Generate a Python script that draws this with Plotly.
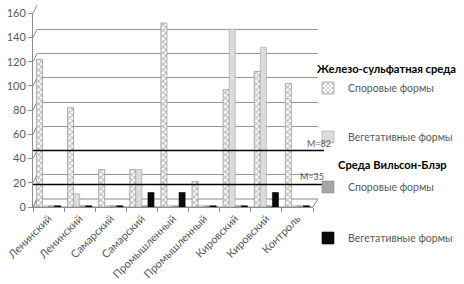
import plotly.graph_objects as go

categories = ["Ленинский", "Ленинский", "Самарский", "Самарский", "Промышленный",
              "Промышленный", "Кировский", "Кировский", "Контроль"]
fe_spore = [122, 82, 31, 31, 152, 21, 97, 112, 102]
fe_veg = [1, 11, 1, 31, 1, 1, 147, 132, 1]
wb_spore = [1, 1, 1, 1, 1, 1, 1, 1, 1]
wb_veg = [1, 1, 1, 12, 12, 1, 1, 12, 1]
y_ticks = [0, 20, 40, 60, 80, 100, 120, 140, 160]
mean_levels = [40, 12]
mean_labels = ["M=82", "M=35"]
group_titles = ["Железо-сульфатная среда", "Среда Вильсон-Блэр"]
series_names = ["Споровые формы", "Вегетативные формы", "Споровые формы", "Вегетативные формы"]

W, H = 464, 284
PL, PR, PT, PB = 33, 318, 5, 207
pw, ph = PR - PL, PB - PT
front_x1 = (313 - PL) / pw
back_x0 = (37 - PL) / pw
back_y0 = 8 / ph
front_y1 = (PB - 13.3) / ph

FONT = "Lato, 'Open Sans', sans-serif"
TXT = "#595959"
xs = list(range(len(categories)))

fig = go.Figure()
styles = [
    dict(color="white", line=dict(color="#7f7f7f", width=0.6),
         pattern=dict(shape="x", fgcolor="#6a6a6a", bgcolor="white", size=4, solidity=0.45)),
    dict(color="#dcdcdc", line=dict(color="#a0a0a0", width=0.6)),
    dict(color="#a6a6a6", line=dict(color="#8a8a8a", width=0.6)),
    dict(color="#0a0a0a", line=dict(color="#000000", width=0.6)),
]
data = [fe_spore, fe_veg, wb_spore, wb_veg]
legends = ["legend", "legend2", "legend3", "legend4"]
for vals, st, nm, lg in zip(data, styles, series_names, legends):
    fig.add_trace(go.Bar(x=xs, y=vals, name=nm, marker=st, xaxis="x2", yaxis="y2",
                         legend=lg, showlegend=True))

# legends
leg_y = [88, 137, 187, 238]
for lg, yy in zip(legends, leg_y):
    fig.update_layout(**{lg: dict(x=308 / W, y=1 - yy / H, xref="container", yref="container",
                                  xanchor="left", yanchor="middle", bgcolor="rgba(0,0,0,0)",
                                  font=dict(family=FONT, size=10.5, color=TXT),
                                  itemclick=False)})

shapes = []
# floor
shapes.append(dict(type="path", xref="paper", yref="paper", layer="below",
                   path=f"M0,0 L{front_x1},0 L1,{back_y0} L{back_x0},{back_y0} Z",
                   line=dict(color="#8c8c8c", width=1), fillcolor="white"))
# left wall diagonals
for v in y_ticks:
    yf = front_y1 * v / 160
    yb = back_y0 + (1 - back_y0) * v / 160
    shapes.append(dict(type="line", xref="paper", yref="paper", layer="below",
                       x0=0, y0=yf, x1=back_x0, y1=yb,
                       line=dict(color="#8c8c8c", width=1)))
# mean lines
for lv in mean_levels:
    shapes.append(dict(type="line", xref="paper", yref="y", x0=0, x1=(324 - PL) / pw,
                       y0=lv, y1=lv, line=dict(color="black", width=1.5)))

annotations = []
ann_x = [333, 326]
for lv, lb, ax in zip(mean_levels, mean_labels, ann_x):
    annotations.append(dict(text=lb, xref="paper", yref="y", x=(ax - PL) / pw, y=lv,
                            xanchor="right", yanchor="bottom", showarrow=False,
                            font=dict(family=FONT, size=9, color=TXT), yshift=0))
title_pos = [(315, 68), (336, 164)]
for t, (tx, ty) in zip(group_titles, title_pos):
    annotations.append(dict(text=f"<b>{t}</b>", xref="paper", yref="paper",
                            x=(tx - PL) / pw, y=(PB - ty) / ph, xanchor="left",
                            yanchor="middle", showarrow=False,
                            font=dict(family=FONT, size=11.2, color="black")))

fig.update_layout(
    width=W, height=H,
    margin=dict(l=PL, r=W - PR, t=PT, b=H - PB, autoexpand=False),
    paper_bgcolor="white", plot_bgcolor="rgba(0,0,0,0)",
    barmode="group", bargap=0.22, bargroupgap=0,
    font=dict(family=FONT, size=11, color=TXT),
    xaxis=dict(domain=[back_x0, 1], range=[0, 1], showgrid=False, showticklabels=False,
               zeroline=False, showline=False, anchor="y"),
    yaxis=dict(domain=[back_y0, 1], range=[0, 160], tickvals=y_ticks, showgrid=True,
               gridcolor="#969696", gridwidth=1, showticklabels=False, zeroline=False,
               showline=False, anchor="x"),
    xaxis2=dict(domain=[0, front_x1], range=[-0.5, len(categories) - 0.5], anchor="y2",
                tickvals=xs, ticktext=categories, tickangle=-45, ticks="",
                showline=True, linecolor="#8c8c8c", showgrid=False, zeroline=False,
                tickfont=dict(family=FONT, size=11, color=TXT),
                minor=dict(ticks="outside", tick0=0.5, dtick=1, ticklen=4,
                           tickcolor="#8c8c8c", showgrid=False)),
    yaxis2=dict(domain=[0, front_y1], range=[0, 160], anchor="x2", tickvals=y_ticks,
                ticks="outside", ticklen=4, tickcolor="#8c8c8c", showline=True,
                linecolor="#8c8c8c", showgrid=False, zeroline=False,
                tickfont=dict(family=FONT, size=11, color=TXT)),
    shapes=shapes, annotations=annotations,
)

fig.write_html("out.html", config={"displayModeBar": False, "staticPlot": True},
               post_script="document.body.style.margin='0';document.body.style.padding='0';")
